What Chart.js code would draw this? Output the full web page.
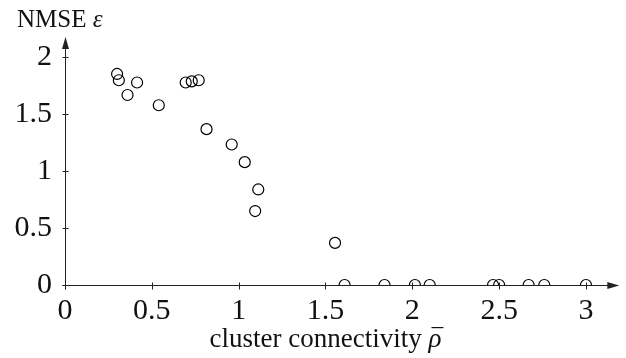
<!DOCTYPE html>
<html>
<head>
<meta charset="utf-8">
<script src="https://cdn.jsdelivr.net/npm/chart.js@4.4.1/dist/chart.umd.min.js"></script>
<style>
  html, body { margin: 0; padding: 0; background: #fff; }
  #contenedor { width: 626px; height: 358px; }
</style>
</head>
<body>
<div id="contenedor"><canvas id="graficoNmse" width="626" height="358"></canvas></div>
<script>
// Datos
const conectividad = [0.30, 0.31, 0.36, 0.415, 0.54, 0.695, 0.73, 0.77, 0.815, 0.96, 1.035, 1.113, 1.095, 1.555, 1.61, 1.84, 2.015, 2.10, 2.465, 2.50, 2.67, 2.76, 3.0];
const nmse = [1.855, 1.80, 1.67, 1.78, 1.58, 1.78, 1.79, 1.80, 1.37, 1.235, 1.08, 0.84, 0.65, 0.37, 0, 0, 0, 0, 0, 0, 0, 0, 0];
const ticksX = [0, 0.5, 1, 1.5, 2, 2.5, 3];
const ticksY = [0, 0.5, 1, 1.5, 2];
const tituloX = "cluster connectivity ";
const simboloX = "\u03C1";
const tituloY = "NMSE ";
const simboloY = "\u03B5";

const colorEje = "#222";
const fuente = "Liberation Serif";

// Ejes con flecha y marcas que cruzan el eje, como en la figura original
const ejesConFlecha = {
  id: "ejesConFlecha",
  beforeDatasetsDraw(chart) {
    const ctx = chart.ctx;
    const sx = chart.scales.x;
    const sy = chart.scales.y;
    const area = chart.chartArea;
    const x0 = Math.round(sx.getPixelForValue(0)) + 0.5;
    const y0 = Math.round(sy.getPixelForValue(0)) + 0.5;

    ctx.save();
    ctx.strokeStyle = colorEje;
    ctx.fillStyle = colorEje;
    ctx.lineWidth = 1;

    ctx.beginPath();
    ctx.moveTo(x0 - 3, y0);
    ctx.lineTo(area.right - 10, y0);
    ctx.moveTo(x0, y0 + 4);
    ctx.lineTo(x0, area.top + 10);
    ctx.stroke();

    // flechas
    ctx.beginPath();
    ctx.moveTo(area.right, y0);
    ctx.lineTo(area.right - 12, y0 - 3.5);
    ctx.lineTo(area.right - 12, y0 + 3.5);
    ctx.closePath();
    ctx.fill();
    ctx.beginPath();
    ctx.moveTo(x0, area.top);
    ctx.lineTo(x0 - 3.5, area.top + 12);
    ctx.lineTo(x0 + 3.5, area.top + 12);
    ctx.closePath();
    ctx.fill();

    // marcas
    ctx.beginPath();
    ticksX.forEach(v => {
      const px = Math.round(sx.getPixelForValue(v)) + 0.5;
      ctx.moveTo(px, y0 - 3);
      ctx.lineTo(px, y0 + 4);
    });
    ticksY.forEach(v => {
      const py = Math.round(sy.getPixelForValue(v)) + 0.5;
      ctx.moveTo(x0 - 3, py);
      ctx.lineTo(x0 + 3, py);
    });
    ctx.stroke();
    ctx.restore();
  },
  afterDraw(chart) {
    const ctx = chart.ctx;
    const sx = chart.scales.x;
    ctx.save();
    ctx.fillStyle = "#111";
    ctx.textBaseline = "alphabetic";

    // titulo del eje x, centrado entre 0 y 3 (rho con barra encima)
    const normalX = "27px '" + fuente + "'";
    const italicaX = "italic 27px '" + fuente + "'";
    ctx.font = normalX;
    const w1 = ctx.measureText(tituloX).width;
    ctx.font = italicaX;
    const w2 = ctx.measureText(simboloX).width;
    const centro = (sx.getPixelForValue(0) + sx.getPixelForValue(3)) / 2;
    const inicio = centro - (w1 + w2) / 2;
    ctx.font = normalX;
    ctx.fillText(tituloX, inicio, 347);
    ctx.font = italicaX;
    ctx.fillText(simboloX, inicio + w1, 347);
    ctx.fillRect(inicio + w1 + 3, 327, w2 - 1, 1.2);

    // titulo del eje y arriba a la izquierda
    const normalY = "25px '" + fuente + "'";
    const italicaY = "italic 25px '" + fuente + "'";
    ctx.font = normalY;
    ctx.fillText(tituloY, 17, 27);
    const w3 = ctx.measureText(tituloY).width;
    ctx.font = italicaY;
    ctx.fillText(simboloY, 17 + w3, 27);
    ctx.restore();
  }
};

const ctx = document.getElementById("graficoNmse").getContext("2d");

new Chart(ctx, {
  type: "scatter",
  data: {
    datasets: [{
      label: "NMSE",
      data: conectividad.map((x, i) => ({ x: x, y: nmse[i] })),
      pointStyle: "circle",
      pointRadius: 5.5,
      pointBorderWidth: 1.2,
      borderColor: "#000",
      backgroundColor: "rgba(0,0,0,0)"
    }]
  },
  options: {
    responsive: false,
    animation: false,
    layout: { padding: { top: 37, right: 2, left: 0, bottom: 0 } },
    plugins: {
      legend: { display: false },
      tooltip: { enabled: false }
    },
    scales: {
      x: {
        type: "linear",
        min: 0,
        max: 3.192,
        grid: { display: false, drawTicks: false },
        border: { display: false },
        afterBuildTicks: s => { s.ticks = ticksX.map(v => ({ value: v })); },
        afterFit: s => { s.height = 73; },
        ticks: {
          padding: 11,
          color: "#111",
          maxRotation: 0,
          autoSkip: false,
          font: { family: fuente, size: 30, lineHeight: 1 },
          callback: v => String(v)
        }
      },
      y: {
        type: "linear",
        min: 0,
        max: 2.18,
        grid: { display: false, drawTicks: false },
        border: { display: false },
        afterBuildTicks: s => { s.ticks = ticksY.map(v => ({ value: v })); },
        afterFit: s => { s.width = 65; },
        ticks: {
          padding: 13,
          color: "#111",
          autoSkip: false,
          font: { family: fuente, size: 30, lineHeight: 1 },
          callback: v => String(v)
        }
      }
    }
  },
  plugins: [ejesConFlecha]
});
</script>
</body>
</html>
